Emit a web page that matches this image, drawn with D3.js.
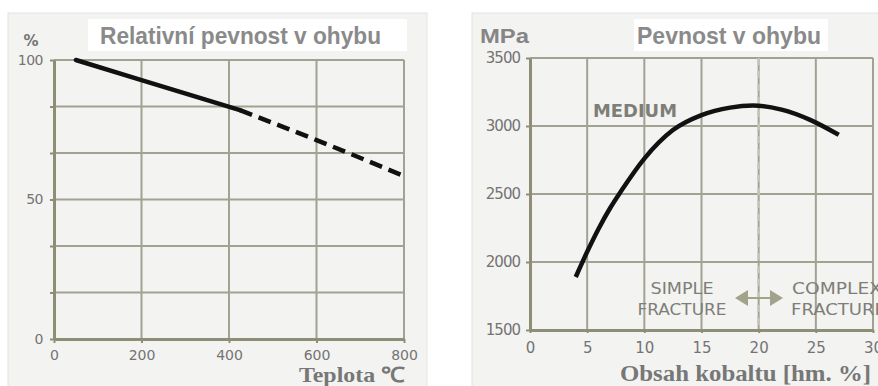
<!DOCTYPE html>
<html><head><meta charset="utf-8">
<script src="https://cdn.jsdelivr.net/npm/d3@7"></script>
<style>
html,body{margin:0;padding:0;background:#fff;}
svg{display:block;}
</style></head>
<body>
<svg id="c" width="878" height="386"></svg>
<script>
// ---- Left chart data: relative bending strength vs temperature ----
const leftTitle = "Relativní pevnost v ohybu";
const leftXTicks = [0, 200, 400, 600, 800];
const leftYGrid = [0, 16.67, 33.33, 50, 66.67, 83.33, 100];
const leftYLabels = [0, 50, 100];
const tempSolid = [50, 200, 425];
const strengthSolid = [100, 92.8, 82];
const tempDashed = [425, 600, 800];
const strengthDashed = [82, 71.3, 58.4];

// ---- Right chart data: bending strength vs cobalt content ----
const rightTitle = "Pevnost v ohybu";
const rightXTicks = [0, 5, 10, 15, 20, 25, 30];
const rightYTicks = [1500, 2000, 2500, 3000, 3500];
const cobalt = [4, 5, 6, 7, 8, 10, 12.5, 15, 17.5, 19.5, 22, 24.5, 27];
const strengthMPa = [1890, 2075, 2245, 2395, 2525, 2760, 2970, 3080, 3135, 3150, 3120, 3045, 2935];
const fractureBoundary = 20;

const svg = d3.select("#c");
const panelFill = "#f3f3f1", gridCol = "#a2a292", axisCol = "#8e8e76", txtCol = "#747474";

// panels
svg.append("rect").attr("x", 8).attr("y", 13).attr("width", 419).attr("height", 380)
  .attr("fill", panelFill).attr("stroke", "#e4e4e2");
svg.append("rect").attr("x", 472).attr("y", 13).attr("width", 420).attr("height", 380)
  .attr("fill", panelFill).attr("stroke", "#e4e4e2");

function styleAxis(g, fs) {
  g.selectAll(".domain").attr("stroke", axisCol).attr("stroke-width", 3);
  g.selectAll(".tick line").attr("stroke", axisCol).attr("stroke-width", 2);
  g.selectAll(".tick text").attr("fill", txtCol).attr("font-family", "DejaVu Sans, sans-serif")
    .attr("font-size", fs);
}

// ================= LEFT =================
{
  const x = d3.scaleLinear().domain([0, 800]).range([54, 404]);
  const y = d3.scaleLinear().domain([0, 100]).range([339, 60]);
  const g = svg.append("g");
  // title box
  g.append("rect").attr("x", 88).attr("y", 19).attr("width", 319).attr("height", 32).attr("fill", "#fff");
  g.append("text").attr("x", 100).attr("y", 44).text(leftTitle)
    .attr("font-family", "Liberation Sans, Arial, sans-serif").attr("font-size", 23).attr("font-weight", "bold")
    .attr("fill", "#8a8a8a").attr("textLength", 281).attr("lengthAdjust", "spacingAndGlyphs");
  // grid
  g.selectAll(".gx").data(leftXTicks).join("line")
    .attr("x1", d => x(d)).attr("x2", d => x(d)).attr("y1", y(0)).attr("y2", y(100))
    .attr("stroke", gridCol).attr("stroke-width", 2);
  g.selectAll(".gy").data(leftYGrid).join("line")
    .attr("x1", x(0)).attr("x2", x(800)).attr("y1", d => y(d)).attr("y2", d => y(d))
    .attr("stroke", gridCol).attr("stroke-width", 2);
  // axes
  const ax = g.append("g").attr("transform", `translate(0,${y(0)})`)
    .call(d3.axisBottom(x).tickValues(leftXTicks).tickSize(4).tickPadding(7).tickSizeOuter(0).tickFormat(d3.format("d")));
  styleAxis(ax, 14);
  const ay = g.append("g").attr("transform", `translate(${x(0)},0)`)
    .call(d3.axisLeft(y).tickValues(leftYGrid).tickSize(4).tickPadding(7).tickSizeOuter(0)
      .tickFormat(d => leftYLabels.includes(d) ? d3.format("d")(d) : ""));
  styleAxis(ay, 14);
  ay.selectAll(".tick text").attr("letter-spacing", -0.5);
  g.append("text").attr("x", 31).attr("y", 46).attr("text-anchor", "middle").text("%")
    .attr("font-family", "DejaVu Sans, sans-serif").attr("font-size", 15).attr("font-weight", "bold").attr("fill", txtCol);
  // lines
  const line = d3.line().x(d => x(d[0])).y(d => y(d[1])).curve(d3.curveMonotoneX);
  g.append("path").datum(d3.zip(tempSolid, strengthSolid)).attr("d", line)
    .attr("fill", "none").attr("stroke", "#111").attr("stroke-width", 4.5).attr("stroke-linecap", "round");
  g.append("path").datum(d3.zip(tempDashed, strengthDashed)).attr("d", line)
    .attr("fill", "none").attr("stroke", "#111").attr("stroke-width", 4.5).attr("stroke-dasharray", "13,7");
  g.append("text").attr("x", 405).attr("y", 382).attr("text-anchor", "end").text("Teplota ℃")
    .attr("font-family", "Liberation Serif, serif").attr("font-size", 21).attr("font-weight", "bold")
    .attr("fill", "#777").attr("textLength", 106).attr("lengthAdjust", "spacingAndGlyphs");
}

// ================= RIGHT =================
{
  const x = d3.scaleLinear().domain([0, 30]).range([530, 873]);
  const y = d3.scaleLinear().domain([1500, 3500]).range([330, 58]);
  const g = svg.append("g");
  g.append("rect").attr("x", 634).attr("y", 19).attr("width", 194).attr("height", 32).attr("fill", "#fff");
  g.append("text").attr("x", 637).attr("y", 44).text(rightTitle)
    .attr("font-family", "Liberation Sans, Arial, sans-serif").attr("font-size", 23).attr("font-weight", "bold")
    .attr("fill", "#8a8a8a").attr("textLength", 184).attr("lengthAdjust", "spacingAndGlyphs");
  g.append("text").attr("x", 480).attr("y", 43).text("MPa")
    .attr("font-family", "Liberation Sans, Arial, sans-serif").attr("font-size", 20).attr("font-weight", "bold")
    .attr("fill", "#858585").attr("textLength", 49).attr("lengthAdjust", "spacingAndGlyphs");
  g.selectAll(".gx").data(rightXTicks).join("line")
    .attr("x1", d => x(d)).attr("x2", d => x(d)).attr("y1", y(1500)).attr("y2", y(3500))
    .attr("stroke", gridCol).attr("stroke-width", 2);
  g.selectAll(".gy").data(rightYTicks).join("line")
    .attr("x1", x(0)).attr("x2", x(30)).attr("y1", d => y(d)).attr("y2", d => y(d))
    .attr("stroke", gridCol).attr("stroke-width", 2);
  // boundary dashed line
  g.append("line").attr("x1", x(fractureBoundary)).attr("x2", x(fractureBoundary))
    .attr("y1", y(3500)).attr("y2", y(1500))
    .attr("stroke", "#c4c4b8").attr("stroke-width", 2.5).attr("stroke-dasharray", "7,6");
  const ax = g.append("g").attr("transform", `translate(0,${y(1500)})`)
    .call(d3.axisBottom(x).tickValues(rightXTicks).tickSize(3).tickPadding(9).tickSizeOuter(0).tickFormat(d3.format("d")));
  styleAxis(ax, 15);
  const ay = g.append("g").attr("transform", `translate(${x(0)},0)`)
    .call(d3.axisLeft(y).tickValues(rightYTicks).tickSize(4).tickPadding(6).tickSizeOuter(0).tickFormat(d3.format("d")));
  styleAxis(ay, 15);
  ay.selectAll(".tick text").attr("letter-spacing", -1);
  // curve
  const line = d3.line().x(d => x(d[0])).y(d => y(d[1])).curve(d3.curveMonotoneX);
  g.append("path").datum(d3.zip(cobalt, strengthMPa)).attr("d", line)
    .attr("fill", "none").attr("stroke", "#111").attr("stroke-width", 4.5).attr("stroke-linecap", "butt");
  // annotations
  const ann = (t, xx, yy, fs, anchor, len) => g.append("text").attr("x", xx).attr("y", yy).text(t)
    .attr("text-anchor", anchor).attr("font-family", "DejaVu Sans, sans-serif").attr("font-size", fs)
    .attr("fill", "#7e7e78").attr("textLength", len).attr("lengthAdjust", "spacingAndGlyphs");
  ann("MEDIUM", 593, 117, 17, "start", 84).attr("font-weight", "bold");
  ann("SIMPLE", 682, 294, 16, "middle", 63);
  ann("FRACTURE", 682, 315, 16, "middle", 89);
  ann("COMPLEX", 792, 294, 16, "start", 90);
  ann("FRACTURE", 791, 315, 16, "start", 95);
  // double arrow
  const ay0 = 298, axL = 735, axR = 783, arCol = "#a3a38c";
  g.append("line").attr("x1", axL + 10).attr("x2", axR - 10).attr("y1", ay0).attr("y2", ay0)
    .attr("stroke", arCol).attr("stroke-width", 2);
  g.append("path").attr("d", `M${axL},${ay0} L${axL + 13},${ay0 - 8} L${axL + 13},${ay0 + 8} Z`).attr("fill", arCol);
  g.append("path").attr("d", `M${axR},${ay0} L${axR - 13},${ay0 - 8} L${axR - 13},${ay0 + 8} Z`).attr("fill", arCol);
  g.append("text").attr("x", 871).attr("y", 381).attr("text-anchor", "end").text("Obsah kobaltu [hm. %]")
    .attr("font-family", "Liberation Serif, serif").attr("font-size", 23).attr("font-weight", "bold")
    .attr("fill", "#777").attr("textLength", 251).attr("lengthAdjust", "spacingAndGlyphs");
}
</script>
</body></html>
